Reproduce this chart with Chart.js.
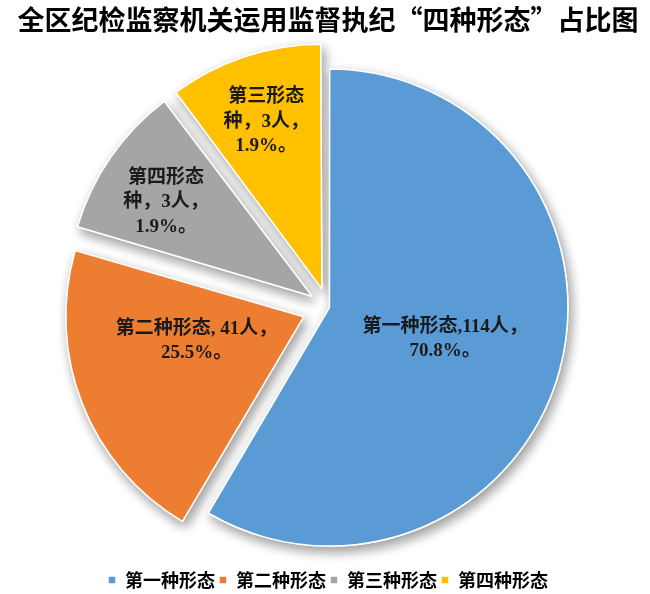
<!DOCTYPE html>
<html>
<head>
<meta charset="utf-8">
<script src="https://cdn.jsdelivr.net/npm/chart.js@4.4.1/dist/chart.umd.min.js"></script>
<style>
html,body{margin:0;padding:0;background:#ffffff;}
#wrap{width:650px;height:594px;position:relative;}
</style>
</head>
<body>
<div id="wrap"><canvas id="c"></canvas></div>
<script>
// ---- data ----
const titleText = '全区纪检监察机关运用监督执纪“四种形态”占比图';
const categories = ['第一种形态', '第二种形态', '第三种形态', '第四种形态'];
// angular share of each slice as drawn in the picture (percent of circle)
const sliceValues = [58.5, 21.0, 10.25, 10.25];
// figures written in the slice labels
const peopleCounts = [114, 41, 3, 3];
const percentTexts = ['70.8%', '25.5%', '1.9%', '1.9%'];
const sliceLabelLines = [
  ['第一种形态,' + peopleCounts[0] + '人，', percentTexts[0] + '。'],
  ['第二种形态, ' + peopleCounts[1] + '人，', percentTexts[1] + '。'],
  ['第四形态', '种，' + peopleCounts[2] + '人，', percentTexts[2] + '。'],
  ['第三形态', '种，' + peopleCounts[3] + '人，', percentTexts[3] + '。']
];

// ---- style ----
const colors = ['#5B9BD5', '#ED7D31', '#A5A5A5', '#FFC000'];
const explodePx = [3, 27, 27, 27];
const labelRadiusFrac = [0.50, 0.46, 0.70, 0.71];
const labelNudgeDeg = [0, 9, -2, 0];
const labelFont = 'bold 19px "Liberation Serif", "Noto Sans CJK SC", serif';
const labelLineH = 24.5;

const totalShare = sliceValues.reduce((a, b) => a + b, 0);
function offsetFor(i) {
  const circ = 2 * Math.PI * sliceValues[i] / totalShare;
  const fix = 1 - Math.sin(Math.min(Math.PI, circ));
  return 4 * explodePx[i] / (1 + fix);
}

const shadowPlugin = {
  id: 'sliceShadow',
  beforeDatasetsDraw(chart) {
    const ctx = chart.ctx;
    chart.getDatasetMeta(0).data.forEach(arc => {
      ctx.save();
      ctx.shadowColor = 'rgba(0,0,0,0.4)';
      ctx.shadowBlur = 12;
      ctx.shadowOffsetX = 3;
      ctx.shadowOffsetY = 5;
      arc.draw(ctx);
      ctx.restore();
    });
  }
};

const labelPlugin = {
  id: 'sliceLabels',
  afterDatasetsDraw(chart) {
    const ctx = chart.ctx;
    chart.getDatasetMeta(0).data.forEach((arc, i) => {
      const p = arc.getProps(['x', 'y', 'startAngle', 'endAngle', 'outerRadius'], true);
      const mid = (p.startAngle + p.endAngle) / 2;
      const vx = p.x + Math.cos(mid) * explodePx[i];
      const vy = p.y + Math.sin(mid) * explodePx[i];
      const a = mid + labelNudgeDeg[i] * Math.PI / 180;
      const r = p.outerRadius * labelRadiusFrac[i];
      const cx = vx + Math.cos(a) * r;
      const cy = vy + Math.sin(a) * r;
      const lines = sliceLabelLines[i];
      ctx.save();
      ctx.font = labelFont;
      ctx.fillStyle = '#1a1a1a';
      ctx.textAlign = 'center';
      ctx.textBaseline = 'middle';
      const y0 = cy - (lines.length - 1) * labelLineH / 2;
      lines.forEach((t, k) => ctx.fillText(t, cx, y0 + k * labelLineH));
      ctx.restore();
    });
  }
};

new Chart(document.getElementById('c'), {
  type: 'pie',
  data: {
    labels: categories,
    datasets: [{
      data: sliceValues,
      backgroundColor: colors,
      borderColor: '#ffffff',
      borderWidth: 1.5,
      hoverOffset: 0,
      offset: (c) => offsetFor(c.dataIndex)
    }]
  },
  options: {
    responsive: true,
    maintainAspectRatio: false,
    animation: false,
    events: [],
    radius: 237,
    layout: { padding: { left: 6, right: 0, top: 0, bottom: -5 } },
    plugins: {
      title: {
        display: true,
        text: titleText,
        color: '#000000',
        font: { family: '"Noto Sans CJK SC", sans-serif', size: 27, weight: 'bold' },
        padding: { top: 4, bottom: 11 }
      },
      legend: {
        position: 'bottom',
        labels: {
          boxWidth: 8,
          boxHeight: 8,
          padding: 4,
          color: '#000000',
          font: { family: '"Noto Sans CJK SC", sans-serif', size: 18, weight: 'bold' }
        }
      },
      tooltip: { enabled: false }
    }
  },
  plugins: [shadowPlugin, labelPlugin]
});
</script>
</body>
</html>
